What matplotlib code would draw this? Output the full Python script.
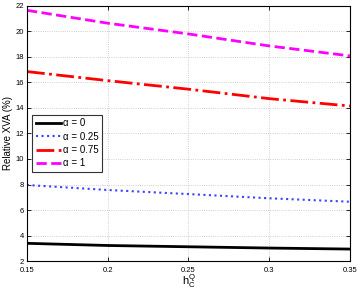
import matplotlib
matplotlib.use("Agg")
import matplotlib.pyplot as plt

h = [0.15, 0.20, 0.25, 0.30, 0.35]
xva_a0 = [3.39, 3.22, 3.12, 3.02, 2.94]
xva_a025 = [7.96, 7.57, 7.25, 6.92, 6.65]
xva_a075 = [16.85, 16.14, 15.47, 14.73, 14.15]
xva_a1 = [21.65, 20.64, 19.80, 18.86, 18.08]
labels = ["α = 0", "α = 0.25", "α = 0.75", "α = 1"]
xticks = [0.15, 0.2, 0.25, 0.3, 0.35]
yticks = list(range(2, 23, 2))

plt.rcParams['font.family'] = ['Liberation Sans', 'DejaVu Sans']
plt.rcParams['mathtext.fontset'] = 'custom'
plt.rcParams['mathtext.rm'] = 'Liberation Sans'
plt.rcParams['mathtext.it'] = 'Liberation Sans:italic'

fig = plt.figure(figsize=(3.6, 2.93), dpi=100)
ax = fig.add_axes([0.075, 0.109, 0.897, 0.871])
ax.plot(h, xva_a0, color='black', ls='-', lw=2, label=labels[0])
ax.plot(h, xva_a025, color='#4040ff', ls=':', lw=1.5, label=labels[1])
ax.plot(h, xva_a075, color='red', ls='-.', lw=2, label=labels[2])
ax.plot(h, xva_a1, color='magenta', ls='--', lw=2, label=labels[3])

ax.set_xlim(0.15, 0.35)
ax.set_ylim(2, 22)
ax.set_xticks(xticks)
ax.set_xticklabels(["0.15", "0.2", "0.25", "0.3", "0.35"])
ax.set_yticks(yticks)
ax.tick_params(labelsize=5.5, direction='in', length=3, width=0.6, top=True, right=True)
ax.tick_params(axis='x', pad=4)
ax.tick_params(axis='y', pad=2)
ax.grid(True, ls=':', color='#c0c0c0', lw=0.6)
for s in ax.spines.values():
    s.set_linewidth(0.8)
ax.set_ylabel("Relative XVA (%)", fontsize=7, labelpad=2)
ax.set_xlabel(r"h$_\mathrm{C}^\mathrm{Q}$", fontsize=8, labelpad=-1)

leg = ax.legend(loc='upper left', bbox_to_anchor=(0.016, 0.573), borderaxespad=0, fontsize=7,
                frameon=True, fancybox=False, edgecolor='#333333', framealpha=1,
                handlelength=2.6, handletextpad=0.2, borderpad=0.35, labelspacing=0.35)
leg.get_frame().set_linewidth(0.8)

fig.savefig("out.png", dpi=100)
